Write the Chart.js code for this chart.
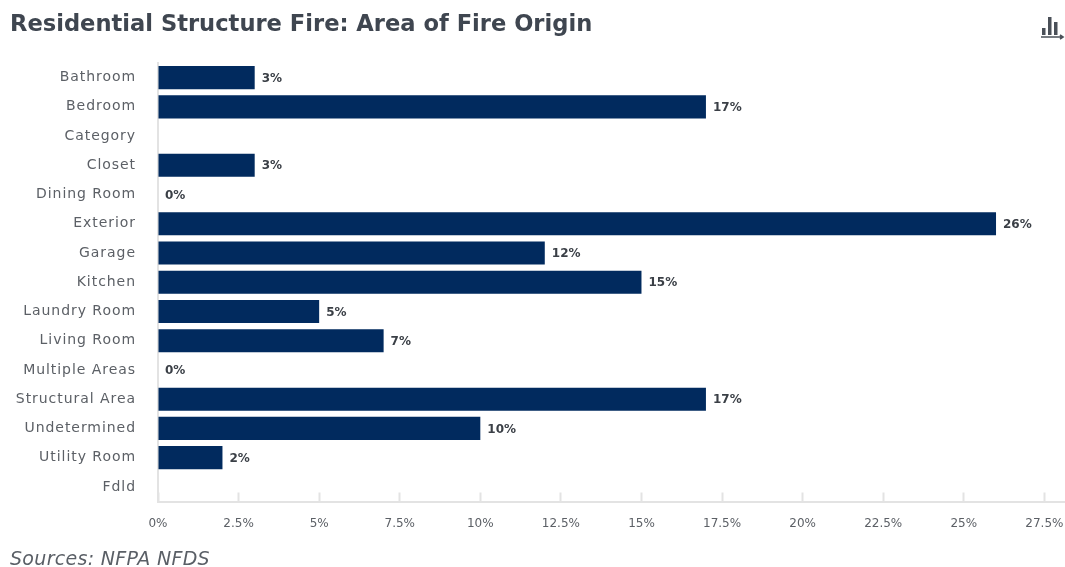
<!DOCTYPE html>
<html>
<head>
<meta charset="utf-8">
<title>Residential Structure Fire: Area of Fire Origin</title>
<script src="https://cdn.jsdelivr.net/npm/chart.js@4"></script>
<style>
    html, body { margin: 0; padding: 0; background: #fff; overflow: hidden; }
    #wrap { position: relative; width: 1065px; height: 567px; filter: blur(0.45px); }
    #titulo { position: absolute; left: 10px; top: 10px; font: 700 22.6px "DejaVu Sans", sans-serif; color: #3f4650; white-space: nowrap; }
    #fuente { position: absolute; left: 10px; top: 547px; font: italic 19px "DejaVu Sans", sans-serif; letter-spacing: 0.3px; color: #5a5f66; white-space: nowrap; }
    #icono { position: absolute; left: 1040px; top: 15px; }
</style>
</head>
<body>
<div id="wrap">
    <canvas id="grafica" width="1065" height="567"></canvas>
    <div id="titulo">Residential Structure Fire: Area of Fire Origin</div>
    <div id="fuente">Sources: NFPA NFDS</div>
    <svg id="icono" width="26" height="26" viewBox="0 0 26 26">
        <rect x="2" y="13" width="3.5" height="7" fill="#4a5058"/>
        <rect x="8" y="2" width="3.5" height="18" fill="#4a5058"/>
        <rect x="14" y="7" width="3.5" height="13" fill="#4a5058"/>
        <path d="M1 22 H22 M20 20 L23 22 L20 24" stroke="#4a5058" stroke-width="1.6" fill="none"/>
    </svg>
</div>
<script>
const categorias = ['Bathroom', 'Bedroom', 'Category', 'Closet', 'Dining Room', 'Exterior', 'Garage', 'Kitchen',
    'Laundry Room', 'Living Room', 'Multiple Areas', 'Structural Area', 'Undetermined', 'Utility Room', 'Fdld'];
const valores = [3, 17, null, 3, 0, 26, 12, 15, 5, 7, 0, 17, 10, 2, null];
const AZUL = '#012a5e';
const GRIS_EJE = '#e3e3e3';
const GRIS_TEXTO = '#5c6066';

// Etiquetas de porcentaje al final de cada barra
const etiquetasBarras = {
    id: 'etiquetasBarras',
    afterDatasetsDraw(chart) {
        const ctx = chart.ctx;
        const barras = chart.getDatasetMeta(0).data;
        ctx.save();
        ctx.font = '700 12px "DejaVu Sans"';
        ctx.fillStyle = '#3a3f46';
        ctx.textBaseline = 'middle';
        barras.forEach((b, i) => {
            if (valores[i] === null) return;
            ctx.fillText(valores[i] + '%', b.x + 7, b.y + 1);
        });
        ctx.restore();
    }
};

new Chart(document.getElementById('grafica'), {
    type: 'bar',
    data: {
        labels: categorias,
        datasets: [{ data: valores, backgroundColor: AZUL, categoryPercentage: 1, barPercentage: 0.79 }]
    },
    plugins: [etiquetasBarras],
    options: {
        indexAxis: 'y',
        responsive: false,
        animation: false,
        layout: { padding: { top: 63, bottom: 35.5, left: 0, right: 0 } },
        plugins: { legend: { display: false }, title: { display: false }, tooltip: { enabled: false } },
        scales: {
            x: {
                min: 0,
                max: 28.14,
                afterFit(s) { s.height = 30; s.paddingRight = 0; },
                border: { color: GRIS_EJE, width: 2 },
                grid: { drawOnChartArea: false, color: GRIS_EJE, tickLength: -9, tickWidth: 2 },
                ticks: {
                    stepSize: 2.5,
                    includeBounds: false,
                    autoSkip: false,
                    maxRotation: 0,
                    padding: 24,
                    color: GRIS_TEXTO,
                    font: { family: '"DejaVu Sans"', size: 12 },
                    callback: v => v + '%'
                }
            },
            y: {
                afterFit(s) {
                    s.width = 158;
                    // las etiquetas del original son mas anchas
                    const dibujar = s.drawLabels;
                    s.drawLabels = function (area) {
                        s.ctx.save();
                        s.ctx.letterSpacing = '0.95px';
                        dibujar.call(s, area);
                        s.ctx.restore();
                    };
                },
                border: { color: GRIS_EJE, width: 2 },
                grid: { display: true, drawOnChartArea: false, drawTicks: false },
                ticks: {
                    autoSkip: false,
                    padding: 22,
                    color: GRIS_TEXTO,
                    font: { family: '"DejaVu Sans"', size: 14 }
                }
            }
        }
    }
});
</script>
</body>
</html>
